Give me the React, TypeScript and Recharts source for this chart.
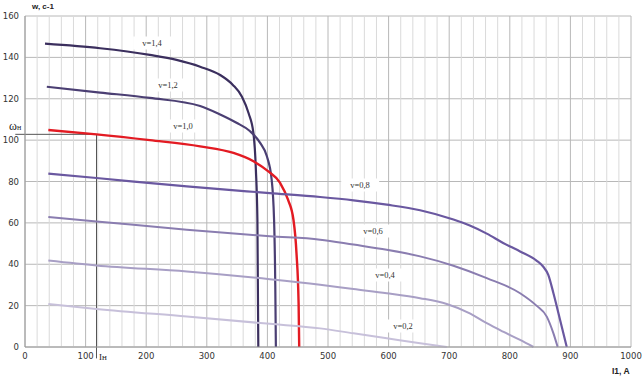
import React from 'react';
import { LineChart, Line, XAxis, YAxis, CartesianGrid, ReferenceLine } from 'recharts';

type Pt = [number, number];

// current I1, A  /  speed w, c-1
const xTicks = [0, 100, 200, 300, 400, 500, 600, 700, 800, 900, 1000];
const yTicks = [0, 20, 40, 60, 80, 100, 120, 140, 160];
const xMinor = Array.from({ length: 51 }, (_, k) => k * 20).filter((v) => v % 100 !== 0);

const nominalCurrent = 118;
const nominalSpeed = 102.8;

const v14: Pt[] = [[33, 146.6], [124, 144.4], [206, 141.2], [250, 138.8], [289, 135.5], [322, 131.5], [343, 126.7], [358, 121], [369, 113], [377, 103.3], [381, 85.7], [383.5, 61.4], [385, 0]];
const v12: Pt[] = [[36, 125.8], [124, 123], [206, 120.4], [289, 116.5], [322, 112.4], [349, 108.4], [371, 104.4], [388, 98.7], [399, 92.3], [407, 81], [411, 61.5], [413, 30], [414, 0]];
const v10: Pt[] = [[38.5, 104.9], [118, 102.8], [206, 100], [289, 97], [344, 93.8], [377, 89.8], [401, 85], [421, 79.3], [434, 71.2], [443, 61.5], [448, 45.4], [451.5, 21], [452.5, 0]];
const v08: Pt[] = [[38.5, 83.8], [118, 81.7], [267, 77.6], [404, 74.4], [487, 72.5], [542, 70.9], [597, 68.8], [652, 66.1], [707, 61.6], [734, 58.7], [762, 54.8], [789, 50.3], [817, 46.2], [844, 41.8], [855, 38.9], [863.5, 34.9], [872, 26], [883, 13.1], [894, 0]];
const v06: Pt[] = [[38.5, 62.8], [118, 60.7], [267, 56.7], [404, 53.5], [487, 51.9], [542, 49.5], [597, 47], [652, 43.8], [707, 39.3], [762, 33.3], [817, 26], [844, 20], [861, 14.7], [872, 6.6], [879, 0]];
const v04: Pt[] = [[38.5, 41.8], [118, 39.4], [267, 36.5], [404, 32.8], [487, 30.1], [542, 28], [597, 26], [652, 23.6], [696, 20.8], [734, 16.3], [762, 11.5], [789, 7.4], [817, 3.4], [839, 0]];
const v02: Pt[] = [[38.5, 20.8], [118, 18.4], [267, 14.7], [404, 11.2], [487, 9], [542, 6.6], [597, 4.2], [652, 1.8], [696, 0]];

const series = [
    { key: 'v14', label: 'v=1,4', pts: v14, color: '#3b2f5e', width: 2.2, lx: 152, ly: 43 },
    { key: 'v12', label: 'v=1,2', pts: v12, color: '#4b3f73', width: 2.2, lx: 168, ly: 85 },
    { key: 'v10', label: 'v=1,0', pts: v10, color: '#e31b23', width: 2.4, lx: 183, ly: 126 },
    { key: 'v08', label: 'v=0,8', pts: v08, color: '#6a58a0', width: 2.2, lx: 360, ly: 185 },
    { key: 'v06', label: 'v=0,6', pts: v06, color: '#8a7db0', width: 2, lx: 373, ly: 231 },
    { key: 'v04', label: 'v=0,4', pts: v04, color: '#a89fc5', width: 2, lx: 385, ly: 275 },
    { key: 'v02', label: 'v=0,2', pts: v02, color: '#c7c0da', width: 2, lx: 403, ly: 326 },
];

const toRows = (pts: Pt[]) => pts.map(([i, w]) => ({ i, w }));

const serif = '"Liberation Serif", "DejaVu Serif", serif';
const sans = '"DejaVu Sans", sans-serif';
const bold = '"Liberation Sans", Arial, sans-serif';

export default function App() {
    return (
        <div style={{ position: 'relative', width: 644, height: 377, background: '#fff', overflow: 'hidden' }}>
            <style>{'html, body { margin: 0; padding: 0; overflow: hidden; }'}</style>
            <LineChart width={644} height={377} margin={{ top: 16, right: 13, left: 0, bottom: 0 }}>
                {xMinor.map((v) => (
                    <ReferenceLine key={v} x={v} stroke="#dadada" strokeWidth={1} />
                ))}
                <CartesianGrid stroke="#b8b8b8" strokeWidth={1} />
                <XAxis
                    type="number"
                    dataKey="i"
                    domain={[0, 1000]}
                    ticks={xTicks}
                    height={30}
                    axisLine={{ stroke: '#9a9a9a' }}
                    tickLine={false}
                    tickSize={0}
                    tickMargin={6}
                    tick={{ fill: '#333', fontSize: 8.5, fontFamily: sans }}
                />
                <YAxis
                    type="number"
                    dataKey="w"
                    domain={[0, 160]}
                    ticks={yTicks}
                    width={25}
                    axisLine={{ stroke: '#9a9a9a' }}
                    tickLine={false}
                    tickSize={0}
                    tickMargin={6}
                    tick={{ fill: '#333', fontSize: 8.5, fontFamily: sans }}
                />
                <ReferenceLine
                    segment={[{ x: -16, y: nominalSpeed }, { x: nominalCurrent, y: nominalSpeed }]}
                    ifOverflow="visible"
                    stroke="#555"
                    strokeWidth={1}
                />
                <ReferenceLine
                    segment={[{ x: nominalCurrent, y: nominalSpeed }, { x: nominalCurrent, y: -5.5 }]}
                    ifOverflow="visible"
                    stroke="#555"
                    strokeWidth={1}
                />
                {series.map((s) => (
                    <Line
                        key={s.key}
                        data={toRows(s.pts)}
                        dataKey="w"
                        type="monotone"
                        stroke={s.color}
                        strokeWidth={s.width}
                        dot={false}
                        isAnimationActive={false}
                    />
                ))}
            </LineChart>

            {series.map((s) => (
                <div
                    key={s.key}
                    style={{
                        position: 'absolute',
                        left: s.lx,
                        top: s.ly,
                        transform: 'translate(-50%, -50%)',
                        background: '#fff',
                        padding: '2px 9px',
                        fontFamily: serif,
                        fontSize: 8.5,
                        lineHeight: '9px',
                        color: '#333',
                        whiteSpace: 'nowrap',
                    }}
                >
                    {s.label}
                </div>
            ))}

            <div style={{ position: 'absolute', left: 32, top: 2, fontFamily: bold, fontWeight: 700, fontSize: 8, lineHeight: '10px', color: '#222' }}>
                w, c-1
            </div>
            <div style={{ position: 'absolute', left: 612, top: 366, fontFamily: bold, fontWeight: 700, fontSize: 8.5, lineHeight: '10px', color: '#222', whiteSpace: 'nowrap' }}>
                I1, A
            </div>
            <div style={{ position: 'absolute', left: 9, top: 120, fontFamily: serif, fontSize: 12, color: '#222', lineHeight: '13px' }}>
                ω<span style={{ fontSize: 8 }}>н</span>
            </div>
            <div style={{ position: 'absolute', left: 99, top: 352, fontFamily: serif, fontSize: 9, lineHeight: '10px', color: '#222' }}>
                Iн
            </div>
        </div>
    );
}
